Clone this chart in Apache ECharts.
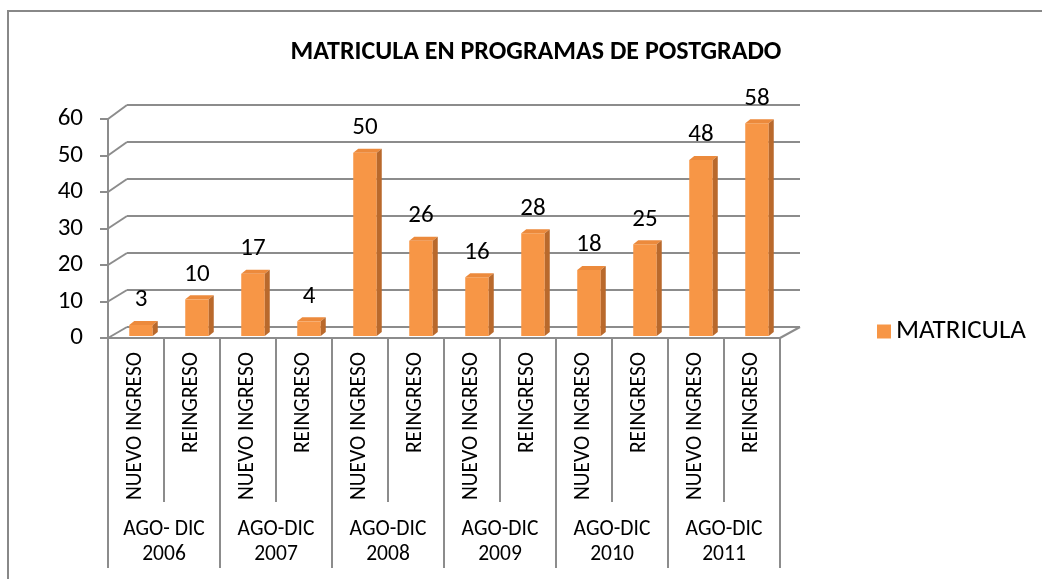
<!DOCTYPE html>
<html>
<head>
<meta charset="utf-8">
<script src="https://cdn.jsdelivr.net/npm/echarts@6/dist/echarts.min.js"></script>
<style>
html, body { margin:0; padding:0; background:#fff; }
#chart { width:1042px; height:579px; }
</style>
</head>
<body>
<div id="chart"></div>
<script>
var subCats = ['NUEVO INGRESO','REINGRESO','NUEVO INGRESO','REINGRESO','NUEVO INGRESO','REINGRESO',
	'NUEVO INGRESO','REINGRESO','NUEVO INGRESO','REINGRESO','NUEVO INGRESO','REINGRESO'];
var groups = ['AGO- DIC\n2006','AGO-DIC\n2007','AGO-DIC\n2008','AGO-DIC\n2009','AGO-DIC\n2010','AGO-DIC\n2011'];
var matricula = [3, 10, 17, 4, 50, 26, 16, 28, 18, 25, 48, 58];
var yTicks = [0, 10, 20, 30, 40, 50, 60];

var FONT = 'Carlito, Calibri, Lato, sans-serif';
var GRAY = '#8c8c8c';

var chart = echarts.init(document.getElementById('chart'));

//3d bar: front, top and side
function renderBar(params, api){
	var idx = api.value(0), val = api.value(1);
	var base = api.coord([idx, 0]);
	var top = api.coord([idx, val]);
	var w = api.size([1, 0])[0] * 0.42;
	var x0 = base[0] - w / 2, dx = 5, dy = 4;
	return {
		type : 'group',
		children : [
			{ type:'rect', shape:{ x:x0, y:top[1], width:w, height:base[1]-top[1] }, style:{ fill:'#f79646' } },
			{ type:'polygon', shape:{ points:[[x0,top[1]],[x0+w,top[1]],[x0+w+dx,top[1]-dy],[x0+dx,top[1]-dy]] }, style:{ fill:'#ec8a3c' } },
			{ type:'polygon', shape:{ points:[[x0+w,top[1]],[x0+w+dx,top[1]-dy],[x0+w+dx,base[1]-dy],[x0+w,base[1]]] }, style:{ fill:'#b9692c' } },
			{ type:'text', style:{ text:String(val), x:base[0], y:top[1]-25, align:'center', verticalAlign:'middle',
				font:'25px ' + FONT, fill:'#000' } }
		]
	};
}

chart.setOption({
	animation : false,
	title : {
		text : 'MATRICULA EN PROGRAMAS DE POSTGRADO',
		left : 531, top : 34, textAlign : 'center',
		textStyle : { fontFamily:FONT, fontSize:26, fontWeight:'bold', color:'#000' }
	},
	legend : {
		data : ['MATRICULA'],
		left : 872, top : 313,
		icon : 'rect', itemWidth : 14, itemHeight : 14, itemGap : 9,
		textStyle : { fontFamily:FONT, fontSize:27, color:'#000' }
	},
	grid : [
		{ left:108, top:119, width:672, height:219 },	//front
		{ left:127, top:105, width:673, height:222 },	//back wall
		{ left:113, top:116, width:672, height:220 }	//bars
	],
	xAxis : [
		{
			gridIndex:0, type:'category', data:subCats,
			axisLine:{ show:true, lineStyle:{ color:GRAY, width:2 } },
			axisTick:{ show:true, length:164, interval:0, lineStyle:{ color:GRAY, width:2 } },
			axisLabel:{ rotate:90, interval:0, margin:14, fontFamily:FONT, fontSize:21.5, color:'#000' }
		},
		{
			gridIndex:0, type:'category', data:groups, position:'bottom',
			axisLine:{ show:false },
			axisTick:{ show:true, length:230, interval:0, lineStyle:{ color:GRAY, width:2 } },
			axisLabel:{ interval:0, margin:179, lineHeight:25, fontFamily:FONT, fontSize:21.5, color:'#000' }
		},
		{ gridIndex:1, type:'category', data:subCats, show:false },
		{ gridIndex:2, type:'category', data:subCats, show:false }
	],
	yAxis : [
		{
			gridIndex:0, type:'value', min:0, max:60, interval:10,
			axisLine:{ show:true, lineStyle:{ color:GRAY, width:2 } },
			axisTick:{ show:true, length:8, lineStyle:{ color:GRAY, width:2 } },
			axisLabel:{ margin:25, fontFamily:FONT, fontSize:25, color:'#000' },
			splitLine:{ show:false }
		},
		{
			gridIndex:1, type:'value', min:0, max:60, interval:10,
			axisLine:{ show:false }, axisTick:{ show:false }, axisLabel:{ show:false },
			splitLine:{ show:true, lineStyle:{ color:GRAY, width:2 } }
		},
		{ gridIndex:2, type:'value', min:0, max:60, interval:10, show:false, splitLine:{ show:false } }
	],
	series : [
		{
			name:'MATRICULA', type:'custom',
			xAxisIndex:3, yAxisIndex:2,
			itemStyle:{ color:'#f79646' },
			renderItem: renderBar,
			data: matricula.map(function(v, i){ return [i, v]; }),
			z:5
		}
	]
});

//diagonals front wall -> back wall, plus frame
var lines = [];
var hw = chart.getModel().getComponent('xAxis', 0).axis.getBandWidth() / 2;
var hb = chart.getModel().getComponent('xAxis', 2).axis.getBandWidth() / 2;
for(var i = 0; i < yTicks.length; i++){
	var f = chart.convertToPixel({ xAxisIndex:0, yAxisIndex:0 }, [0, yTicks[i]]);
	var b = chart.convertToPixel({ xAxisIndex:2, yAxisIndex:1 }, [0, yTicks[i]]);
	lines.push({ type:'line', shape:{ x1:f[0]-hw, y1:f[1], x2:b[0]-hb, y2:b[1] }, style:{ stroke:GRAY, lineWidth:2 }, z:1 });
}
var last = subCats.length - 1;
var fr = chart.convertToPixel({ xAxisIndex:0, yAxisIndex:0 }, [last, 0]);
var br = chart.convertToPixel({ xAxisIndex:2, yAxisIndex:1 }, [last, 0]);
lines.push({ type:'line', shape:{ x1:fr[0]+hw, y1:fr[1], x2:br[0]+hb, y2:br[1] }, style:{ stroke:GRAY, lineWidth:2 }, z:1 });
//chart frame (top and left edges)
lines.push({ type:'polyline', shape:{ points:[[8,579],[8,11],[1042,11]] }, style:{ stroke:'#888', lineWidth:2, fill:null }, z:1 });

chart.setOption({ graphic: lines });
</script>
</body>
</html>
